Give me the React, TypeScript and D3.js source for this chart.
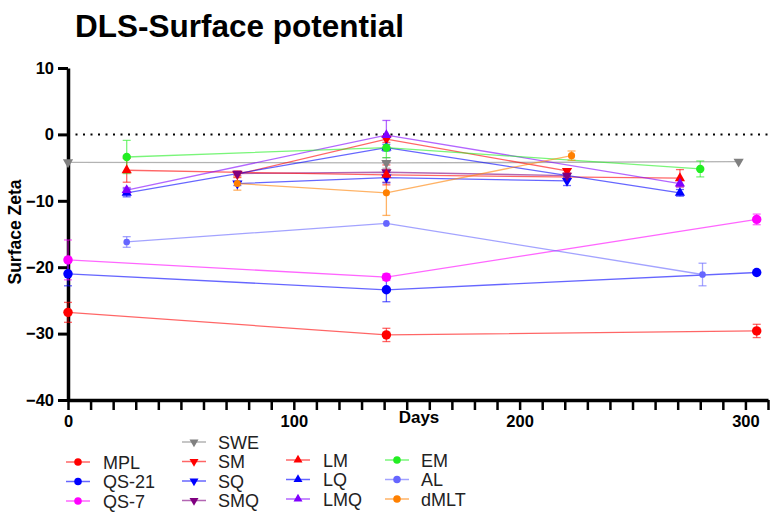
import React, { useEffect, useRef } from 'react';
import * as d3 from 'd3';

// series data
const seriesNames = ['MPL', 'QS-21', 'QS-7', 'SWE', 'SM', 'SQ', 'SMQ', 'LM', 'LQ', 'LMQ', 'EM', 'AL', 'dMLT'];
const seriesDays = [
  [0, 141, 305],
  [0, 141, 305],
  [0, 141, 305],
  [0, 141, 297],
  [75, 141, 221],
  [75, 141, 221],
  [75, 141, 221],
  [26, 141, 271],
  [26, 141, 271],
  [26, 141, 271],
  [26, 141, 280],
  [26, 141, 281],
  [75, 141, 223],
];
const seriesZeta = [
  [-26.8, -30.2, -29.6],
  [-21.0, -23.4, -20.8],
  [-18.9, -21.5, -12.8],
  [-4.2, -4.3, -4.1],
  [-6.0, -0.7, -5.5],
  [-7.4, -6.5, -7.0],
  [-5.9, -5.7, -6.2],
  [-5.4, -6.1, -6.6],
  [-8.8, -2.0, -8.8],
  [-8.4, -0.1, -7.4],
  [-3.4, -2.0, -5.2],
  [-16.2, -13.4, -21.1],
  [-7.4, -8.8, -3.2],
];
const seriesErr = [
  [1.5, 1.0, 1.0],
  [1.8, 1.8, 0],
  [3.0, 0.5, 0.8],
  [0, 0.8, 0],
  [0.5, 0.5, 0.3],
  [0.3, 0.8, 0.7],
  [0.3, 1.5, 0.3],
  [1.8, 1.5, 1.3],
  [0.6, 0.5, 0.5],
  [0.4, 2.2, 0.5],
  [2.5, 1.5, 1.2],
  [0.8, 0, 1.7],
  [1.0, 3.4, 0.7],
];
const seriesColors = ['#ff0000', '#0000ff', '#ff00ff', '#808080', '#ff0000', '#0000ff', '#800080',
  '#ff0000', '#0000ff', '#8000ff', '#22ee22', '#6666ff', '#ff8000'];
const seriesShapes = ['circle', 'circle', 'circle', 'down', 'down', 'down', 'down',
  'up', 'up', 'up', 'circle', 'circle', 'circle'];
const markerSizes = [70, 70, 70, 45, 45, 45, 45, 45, 45, 45, 55, 35, 40];

const yTicks = [-40, -30, -20, -10, 0, 10];
const xTickLabels = [0, 100, 200, 300];

const legendColumns = [[0, 1, 2], [3, 4, 5, 6], [7, 8, 9], [10, 11, 12]];

const font = '"Liberation Sans", Arial, sans-serif';

function symbolPath(shape, size) {
  if (shape === 'circle') return d3.symbol(d3.symbolCircle, size)();
  return d3.symbol(d3.symbolTriangle, size)();
}

function App() {
  const ref = useRef(null);

  useEffect(() => {
    const svg = d3.select(ref.current);
    svg.selectAll('*').remove();

    const x = d3.scaleLinear().domain([0, 310]).range([68, 768]);
    const y = d3.scaleLinear().domain([-40, 10]).range([400, 68]);

    // title
    svg.append('text')
      .attr('x', 75).attr('y', 37)
      .style('font-family', font).style('font-weight', 'bold').style('font-size', '31.5px')
      .text('DLS-Surface potential');

    // zero line
    svg.append('line')
      .attr('x1', x(0)).attr('x2', x(310))
      .attr('y1', y(0)).attr('y2', y(0))
      .attr('stroke', '#000').attr('stroke-width', 2)
      .attr('stroke-dasharray', '2,5.5');

    // y axis
    const yAxis = svg.append('g')
      .attr('transform', `translate(${x(0)},0)`)
      .call(d3.axisLeft(y).tickValues(yTicks).tickSize(10).tickSizeOuter(0).tickPadding(4));
    yAxis.select('.domain').attr('stroke-width', 3.5);
    yAxis.selectAll('.tick line').attr('stroke-width', 3);
    yAxis.selectAll('text')
      .style('font-family', font).style('font-weight', 'bold').style('font-size', '16.5px').attr('fill', '#000');

    // x axis
    const xAxis = svg.append('g')
      .attr('transform', `translate(0,${y(-40)})`)
      .call(d3.axisBottom(x).tickValues(d3.range(0, 311, 10)).tickSize(10).tickSizeOuter(0).tickPadding(5)
        .tickFormat((d) => (xTickLabels.includes(d) ? String(d) : '')));
    xAxis.select('.domain').attr('stroke-width', 3.5);
    xAxis.selectAll('.tick line').attr('stroke-width', 2.5);
    xAxis.selectAll('text')
      .style('font-family', font).style('font-weight', 'bold').style('font-size', '16.5px').attr('fill', '#000');

    // axis titles
    svg.append('text')
      .attr('x', 419).attr('y', 423).attr('text-anchor', 'middle')
      .style('font-family', font).style('font-weight', 'bold').style('font-size', '17px')
      .text('Days');
    svg.append('text')
      .attr('transform', 'translate(21,232) rotate(-90)').attr('text-anchor', 'middle')
      .style('font-family', font).style('font-weight', 'bold').style('font-size', '17.5px')
      .text('Surface Zeta');

    const line = d3.line().x((d) => x(d[0])).y((d) => y(d[1]));

    // connecting lines
    seriesNames.forEach((name, i) => {
      const pts = seriesDays[i].map((d, j) => [d, seriesZeta[i][j]]);
      svg.append('path')
        .attr('d', line(pts))
        .attr('fill', 'none')
        .attr('stroke', seriesColors[i])
        .attr('stroke-opacity', 0.6)
        .attr('stroke-width', 1.3);
    });

    // error bars
    seriesNames.forEach((name, i) => {
      seriesDays[i].forEach((d, j) => {
        const e = seriesErr[i][j];
        if (!e) return;
        const v = seriesZeta[i][j];
        const g = svg.append('g')
          .attr('stroke', seriesColors[i]).attr('stroke-opacity', 0.6).attr('stroke-width', 1.3);
        g.append('line').attr('x1', x(d)).attr('x2', x(d)).attr('y1', y(v - e)).attr('y2', y(v + e));
        [v - e, v + e].forEach((c) => {
          g.append('line').attr('x1', x(d) - 4).attr('x2', x(d) + 4).attr('y1', y(c)).attr('y2', y(c));
        });
      });
    });

    // markers
    seriesNames.forEach((name, i) => {
      seriesDays[i].forEach((d, j) => {
        const rot = seriesShapes[i] === 'down' ? ' rotate(180)' : '';
        svg.append('path')
          .attr('d', symbolPath(seriesShapes[i], markerSizes[i]))
          .attr('transform', `translate(${x(d)},${y(seriesZeta[i][j])})${rot}`)
          .attr('fill', seriesColors[i]);
      });
    });

    // legend
    const colX = [66, 182, 286, 385];
    const colTextX = [103, 218, 323, 421];
    const colTop = [462, 442, 460, 460];
    const rowH = 19.5;
    legendColumns.forEach((col, c) => {
      col.forEach((i, r) => {
        const cy = colTop[c] + r * rowH;
        svg.append('line')
          .attr('x1', colX[c]).attr('x2', colX[c] + 24)
          .attr('y1', cy).attr('y2', cy)
          .attr('stroke', seriesColors[i]).attr('stroke-opacity', 0.6).attr('stroke-width', 1.5);
        const rot = seriesShapes[i] === 'down' ? ' rotate(180)' : '';
        svg.append('path')
          .attr('d', symbolPath(seriesShapes[i], seriesShapes[i] === 'circle' ? 45 : 35))
          .attr('transform', `translate(${colX[c] + 12},${cy})${rot}`)
          .attr('fill', seriesColors[i]);
        svg.append('text')
          .attr('x', colTextX[c]).attr('y', cy + 6.5)
          .style('font-family', font).style('font-size', '18px').attr('fill', '#222')
          .text(seriesNames[i]);
      });
    });
  }, []);

  return (
    <svg ref={ref} width={779} height={529}
      style={{ position: 'absolute', left: 0, top: 0, background: '#fff' }} />
  );
}

export default App;
